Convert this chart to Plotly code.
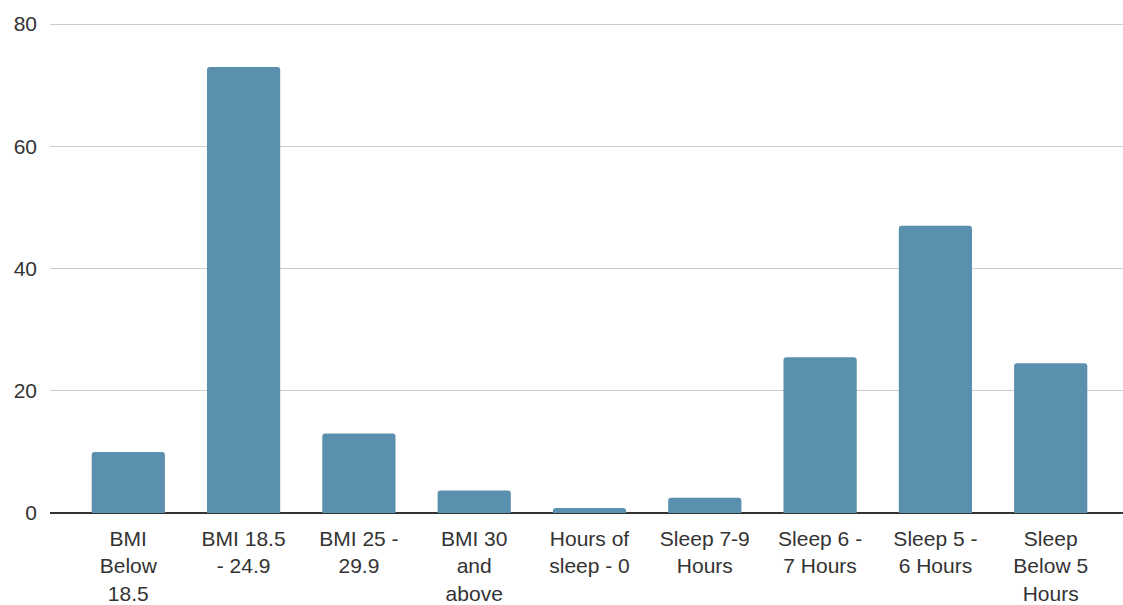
import plotly.graph_objects as go

# Category labels (line breaks as they wrap under each bar)
categories = [
    "BMI<br>Below<br>18.5",
    "BMI 18.5<br>- 24.9",
    "BMI 25 -<br>29.9",
    "BMI 30<br>and<br>above",
    "Hours of<br>sleep - 0",
    "Sleep 7-9<br>Hours",
    "Sleep 6 -<br>7 Hours",
    "Sleep 5 -<br>6 Hours",
    "Sleep<br>Below 5<br>Hours",
]
values = [10, 73, 13, 3.7, 0.8, 2.5, 25.5, 47, 24.5]
y_ticks = [0, 20, 40, 60, 80]

fig = go.Figure(
    go.Bar(
        x=list(range(len(categories))),
        y=values,
        marker=dict(color="#5a8fae", line=dict(width=0), cornerradius=3),
        width=0.635,
        hoverinfo="skip",
    )
)

font = dict(family="Liberation Sans, Arial, sans-serif", size=21, color="#333333")

fig.update_layout(
    width=1123,
    height=605,
    margin=dict(l=50, r=0, t=18, b=92),
    paper_bgcolor="white",
    plot_bgcolor="white",
    showlegend=False,
    font=font,
    xaxis=dict(
        range=[-0.679, 8.627],
        tickmode="array",
        tickvals=list(range(len(categories))),
        ticktext=categories,
        showgrid=False,
        zeroline=False,
        showline=False,
        ticks="",
        ticklabelstandoff=11,
        tickfont=font,
    ),
    yaxis=dict(
        range=[0, 81],
        tickmode="array",
        tickvals=y_ticks,
        ticktext=[str(v) for v in y_ticks],
        showgrid=True,
        gridcolor="#cccccc",
        gridwidth=1,
        zeroline=True,
        zerolinecolor="#333333",
        zerolinewidth=1.5,
        showline=False,
        ticks="",
        ticklabelstandoff=12,
        tickfont=font,
    ),
)

fig.write_html("out.html")
